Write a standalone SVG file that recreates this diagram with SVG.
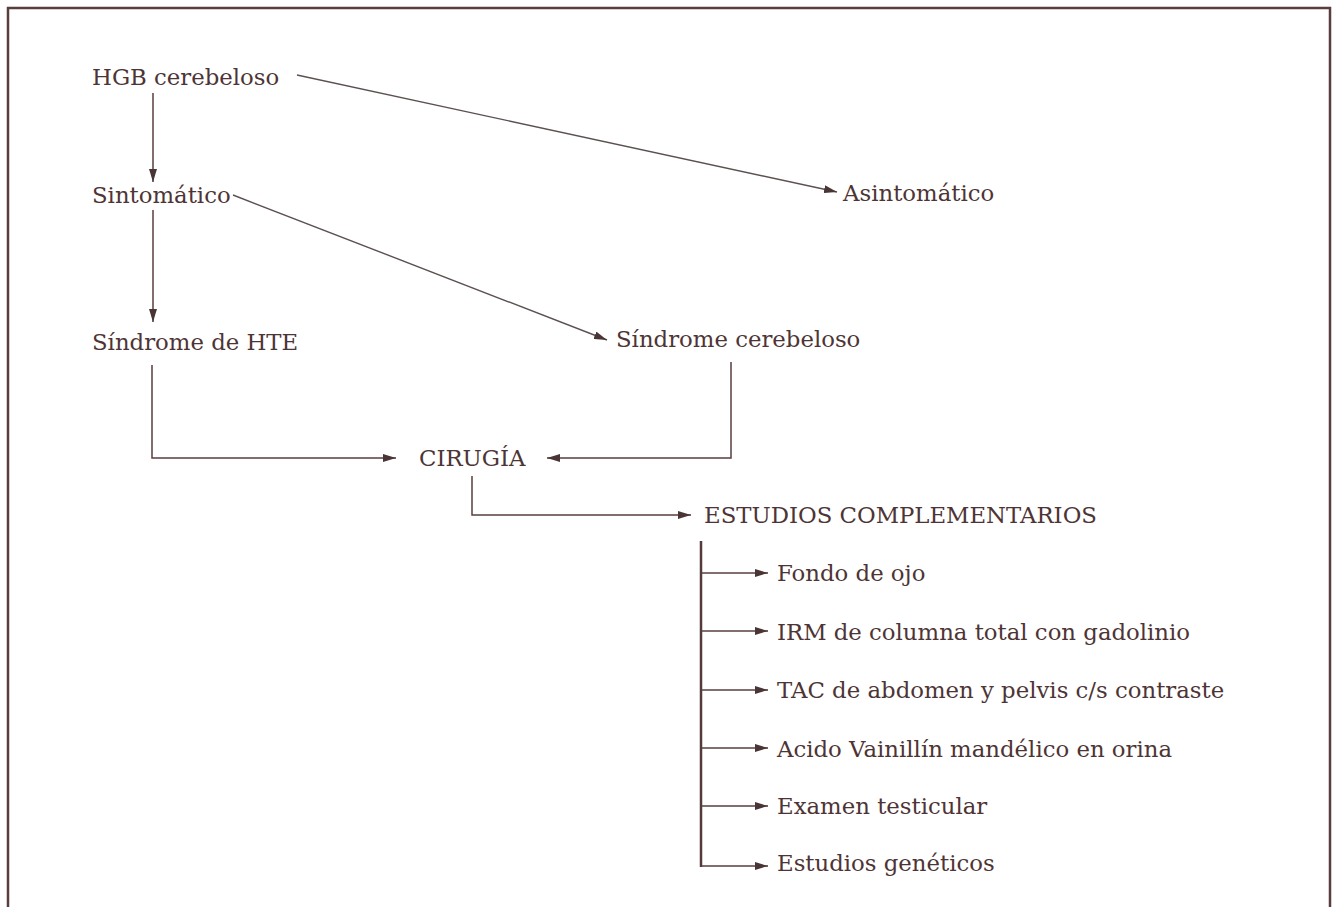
<svg xmlns="http://www.w3.org/2000/svg" width="1335" height="907" viewBox="0 0 1335 907">
<defs>
<marker id="ah" viewBox="0 0 13 8" refX="13" refY="4" markerWidth="13" markerHeight="8" markerUnits="userSpaceOnUse" orient="auto">
<path d="M0,0 L13,4 L0,8 Z" fill="#4a3536"/>
</marker>
<style>
text{font-family:"DejaVu Serif","Liberation Serif",serif;font-size:22.8px;fill:#4e3435}
.ln{fill:none;stroke:#5a3e3f;stroke-width:1.5}
.dg{fill:none;stroke:#5c5050;stroke-width:1.4}
.bar{fill:none;stroke:#553a3b;stroke-width:2.5}
</style>
</defs>
<rect width="1335" height="907" fill="#ffffff"/>
<path d="M8,907 V8 H1330 V907" fill="none" stroke="#5a3e3f" stroke-width="2.5"/>
<g id="connectors">
<line class="ln" x1="153" y1="93" x2="153" y2="182" marker-end="url(#ah)"/>
<line class="dg" x1="297" y1="75" x2="837" y2="192" marker-end="url(#ah)"/>
<line class="ln" x1="153" y1="210" x2="153" y2="322" marker-end="url(#ah)"/>
<line class="dg" x1="233" y1="195" x2="607" y2="340" marker-end="url(#ah)"/>
<path class="ln" d="M152,365 V458 H396" marker-end="url(#ah)"/>
<path class="ln" d="M731,362 V458 H547" marker-end="url(#ah)"/>
<path class="ln" d="M472,476 V515 H691" marker-end="url(#ah)"/>
<line class="bar" x1="701" y1="541" x2="701" y2="867"/>
<line class="ln" x1="701" y1="573" x2="768" y2="573" marker-end="url(#ah)"/>
<line class="ln" x1="701" y1="631" x2="768" y2="631" marker-end="url(#ah)"/>
<line class="ln" x1="701" y1="690" x2="768" y2="690" marker-end="url(#ah)"/>
<line class="ln" x1="701" y1="748" x2="768" y2="748" marker-end="url(#ah)"/>
<line class="ln" x1="701" y1="806" x2="768" y2="806" marker-end="url(#ah)"/>
<line class="ln" x1="701" y1="866" x2="768" y2="866" marker-end="url(#ah)"/>
</g>
<g id="n-hgb"><text x="92" y="85">HGB cerebeloso</text></g>
<g id="n-sintomatico"><text x="92" y="203">Sintomático</text></g>
<g id="n-asintomatico"><text x="843" y="201">Asintomático</text></g>
<g id="n-hte"><text x="92" y="350">Síndrome de HTE</text></g>
<g id="n-cerebeloso"><text x="616" y="347">Síndrome cerebeloso</text></g>
<g id="n-cirugia"><text x="419" y="466">CIRUGÍA</text></g>
<g id="n-estudios"><text x="704" y="523">ESTUDIOS COMPLEMENTARIOS</text></g>
<g id="n-fondo"><text x="777" y="581">Fondo de ojo</text></g>
<g id="n-irm"><text x="777" y="640">IRM de columna total con gadolinio</text></g>
<g id="n-tac"><text x="777" y="698">TAC de abdomen y pelvis c/s contraste</text></g>
<g id="n-acido"><text x="777" y="757">Acido Vainillín mandélico en orina</text></g>
<g id="n-examen"><text x="777" y="814">Examen testicular</text></g>
<g id="n-geneticos"><text x="777" y="871">Estudios genéticos</text></g>
</svg>
